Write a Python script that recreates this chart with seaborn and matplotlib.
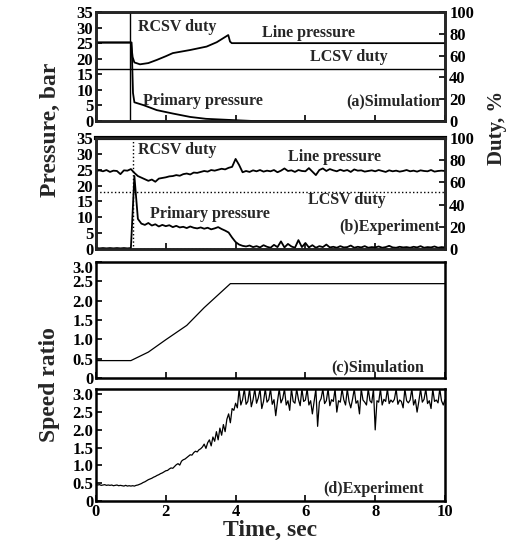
import numpy as np
import pandas as pd
import matplotlib
matplotlib.use("Agg")
import matplotlib.pyplot as plt
from matplotlib.transforms import ScaledTranslation
import seaborn as sns

# ---------------- data ----------------
# (a) simulation
sim_line_t = [0, 1.0, 1.05, 1.1, 1.26, 1.5, 1.74, 2.0, 2.2, 2.7, 3.17, 3.46, 3.79, 3.84, 3.89, 10]
sim_line_p = [25.2, 25.2, 20.5, 18.8, 18.2, 18.6, 19.6, 20.8, 21.8, 22.8, 23.9, 25.3, 27.6, 25.5, 25.0, 25.0]
sim_prim_t = [0, 1.02, 1.06, 1.1, 1.36, 1.74, 2.2, 2.7, 3.15, 4.1, 4.5, 10]
sim_prim_p = [25.2, 25.2, 9.0, 6.0, 5.1, 3.5, 2.4, 1.3, 0.7, 0.2, 0.0, 0.0]
sim_rcsv_t = [0, 0.98, 0.98, 10]
sim_rcsv_d = [100, 100, 0, 0]
sim_lcsv_t = [0, 10]
sim_lcsv_d = [47.4, 47.4]

# (b) experiment (sampled every 0.1 s from 0 to 10 s)
exp_t_start, exp_t_step = 0.0, 0.1
exp_line_p = [24.6, 24.8, 24.5, 24.9, 24.3, 24.7, 24.6, 23.6, 24.8, 24.7,
              25.2, 24.0, 23.0, 22.5, 22.0, 21.5, 21.9, 21.2, 22.2, 22.4,
              22.6, 22.9, 23.0, 23.3, 23.1, 23.6, 23.8, 23.5, 24.1, 24.0,
              24.3, 24.6, 24.4, 24.9, 24.7, 25.0, 25.3, 25.1, 25.6, 25.9,
              28.4, 26.5, 24.2, 24.6, 24.3, 24.8, 24.5, 24.9, 24.4, 24.7,
              24.5, 24.9, 24.2, 24.7, 25.4, 24.6, 24.8, 24.3, 24.9, 24.6,
              24.5, 25.5, 24.4, 23.3, 24.9, 25.4, 24.6, 25.2, 24.8, 24.5,
              25.0, 24.6, 24.9, 24.3, 25.1, 24.7, 24.8, 24.4, 24.6, 24.8,
              24.5, 24.9, 24.6, 24.3, 24.8, 24.5, 24.7, 24.4, 24.6, 24.9,
              24.5, 24.7, 24.4, 24.8, 24.6, 24.5, 24.9, 24.4, 24.6, 24.7,
              24.6]
exp_prim_p = [0.3, 0.2, 0.3, 0.2, 0.3, 0.2, 0.3, 0.2, 0.3, 0.2,
              0.3, 23.0, 9.5, 8.0, 7.6, 8.2, 7.4, 7.8, 7.1, 7.6,
              7.2, 7.5, 6.9, 7.3, 6.8, 7.0, 6.6, 7.1, 6.7, 6.5,
              6.8, 6.4, 6.7, 6.2, 6.5, 6.9, 6.3, 5.8, 5.2, 3.6,
              2.2, 1.4, 1.0, 0.8, 1.1, 0.6, 0.9, 0.5, 1.2, 0.7,
              0.4, 1.3, 0.6, 2.4, 0.5, 1.6, 0.8, 0.4, 2.8, 0.6,
              1.9, 0.5, 1.2, 0.4, 0.9, 0.6, 1.4, 0.5, 0.7, 0.4,
              0.9, 0.5, 0.6, 1.1, 0.4, 0.7, 0.5, 0.9, 0.4, 0.6,
              0.5, 0.8, 0.4, 0.6, 1.0, 0.5, 0.4, 0.7, 0.5, 0.6,
              0.4, 0.7, 0.5, 0.9, 0.4, 0.6, 0.5, 0.8, 0.4, 0.6,
              0.5]
exp_rcsv_t = [0, 1.05, 1.05, 10]
exp_rcsv_d = [100, 100, 0, 0]
exp_lcsv_t = [0, 10]
exp_lcsv_d = [51.1, 51.1]

# (c) simulation speed ratio
sim_speed_t = [0, 1.0, 1.5, 2.0, 2.6, 3.1, 3.85, 10]
sim_speed = [0.45, 0.45, 0.67, 0.99, 1.36, 1.82, 2.44, 2.44]

# (d) experiment speed ratio (sampled every 0.05 s from 0 to 10 s)
exp_speed_step = 0.05
exp_speed = [0.46, 0.45, 0.46, 0.44, 0.45, 0.46, 0.44, 0.45, 0.44, 0.45, 0.43, 0.44, 0.45, 0.43, 0.44, 0.43, 0.42, 0.44, 0.42, 0.43,
             0.42, 0.43, 0.42, 0.44, 0.45, 0.47, 0.49, 0.52, 0.54, 0.57, 0.60, 0.62, 0.64, 0.67, 0.69, 0.72, 0.74, 0.77, 0.79, 0.82,
             0.85, 0.86, 0.90, 0.93, 0.92, 0.97, 1.02, 1.05, 1.01, 1.12, 1.16, 1.18, 1.22, 1.26, 1.30, 1.29, 1.36, 1.40, 1.38, 1.44,
             1.47, 1.52, 1.60, 1.48, 1.64, 1.72, 1.55, 1.80, 1.68, 1.95, 1.72, 2.05, 1.85, 2.15, 1.95, 2.30, 2.45, 2.20, 2.60, 2.55,
             2.75, 2.62, 3.15, 2.70, 2.85, 3.15, 2.72, 2.80, 3.15, 2.65, 2.85, 3.15, 2.75, 2.90, 3.15, 2.60, 2.80, 3.15, 2.78, 2.85,
             3.15, 2.72, 2.85, 2.40, 2.80, 3.15, 2.76, 2.88, 3.15, 2.70, 2.82, 2.55, 3.15, 2.80, 2.75, 3.15, 2.86, 2.68, 3.15, 2.80,
             2.84, 3.15, 2.70, 2.82, 2.45, 2.80, 3.15, 2.10, 2.78, 2.88, 3.15, 2.74, 2.82, 3.15, 2.68, 2.85, 2.80, 3.15, 2.50, 2.82,
             2.78, 3.15, 2.85, 2.70, 3.15, 2.80, 2.62, 2.86, 3.15, 2.75, 2.82, 2.45, 3.15, 2.84, 2.78, 2.70, 3.15, 2.82, 2.76, 3.15,
             2.00, 2.82, 2.78, 3.15, 2.70, 2.86, 2.80, 3.15, 2.74, 2.84, 2.78, 2.86, 3.15, 2.72, 2.84, 2.80, 2.62, 3.15, 2.82, 2.76,
             2.84, 3.15, 2.70, 2.85, 2.50, 2.80, 3.15, 2.78, 2.86, 3.15, 2.74, 2.82, 2.60, 3.15, 2.80, 2.84, 2.76, 3.15, 2.82, 2.70,
             2.85]

pressure_ticks = [0, 5, 10, 15, 20, 25, 30, 35]
duty_ticks = [0, 20, 40, 60, 80, 100]
speed_ticks = [0, 0.5, 1.0, 1.5, 2.0, 2.5, 3.0]
speed_tick_labels = ["0", "0.5", "1.0", "1.5", "2.0", "2.5", "3.0"]
time_ticks = [0, 2, 4, 6, 8, 10]

# ---------------- style ----------------
sns.set_theme(style="ticks")
plt.rcParams['font.family'] = ['Liberation Serif', 'DejaVu Serif']
plt.rcParams['font.weight'] = 'bold'
plt.rcParams['axes.linewidth'] = 1.8
plt.rcParams['xtick.direction'] = 'in'
plt.rcParams['ytick.direction'] = 'in'

TICK_FS = 12
ANN_FS = 11.5
LAB_FS = 17

fig = plt.figure(figsize=(5.08, 5.43), dpi=100)
W, H = 508, 543


def add_ax(left, top, right, bottom):
    return fig.add_axes([left / W, 1 - bottom / H, (right - left) / W, (bottom - top) / H])


ax_a = add_ax(96, 12, 445, 121)
ax_b = add_ax(96, 138, 445, 249)
ax_c = add_ax(96, 262, 445, 378)
ax_d = add_ax(96, 389, 445, 501)


def line(ax, t, y, lw=1.2, ls='-'):
    df = pd.DataFrame({"t": t, "y": y})
    sns.lineplot(data=df, x="t", y="y", ax=ax, color="black", linewidth=lw,
                 linestyle=ls, sort=False, estimator=None)


def style_ax(ax, ymax, yticks, ylabels=None, xlabels=False):
    ax.set_xlim(0, 10)
    ax.set_ylim(0, ymax)
    ax.set_xticks(time_ticks)
    ax.set_yticks(yticks)
    if ylabels is not None:
        ax.set_yticklabels(ylabels)
    if not xlabels:
        ax.set_xticklabels([])
    ax.tick_params(axis='both', labelsize=TICK_FS, length=4, width=1.2, pad=2, colors='black')
    ax.set_xlabel("")
    ax.set_ylabel("")
    for s in ax.spines.values():
        s.set_color("black")
        s.set_linewidth(1.8)
    for lbl in ax.get_xticklabels() + ax.get_yticklabels():
        lbl.set_fontweight('bold')


def style_twin(ax2):
    ax2.set_ylim(0, 100)
    ax2.set_yticks(duty_ticks)
    ax2.tick_params(axis='y', labelsize=TICK_FS, length=4, width=1.2, pad=3, colors='black', direction='in')
    ax2.set_ylabel("")
    for lbl in ax2.get_yticklabels():
        lbl.set_fontweight('bold')


# (a)
line(ax_a, sim_line_t, sim_line_p, lw=1.3)
line(ax_a, sim_prim_t, sim_prim_p, lw=1.3)
style_ax(ax_a, 35, pressure_ticks)
ax_a2 = ax_a.twinx()
line(ax_a2, sim_rcsv_t, sim_rcsv_d, lw=1.0)
line(ax_a2, sim_lcsv_t, sim_lcsv_d, lw=1.0)
style_twin(ax_a2)

ax_a.text(1.2, 30.3, "RCSV duty", fontsize=ANN_FS, fontweight='bold', va='center')
ax_a.text(4.76, 28.3, "Line pressure", fontsize=ANN_FS, fontweight='bold', va='center')
ax_a.text(6.13, 20.6, "LCSV duty", fontsize=ANN_FS, fontweight='bold', va='center')
ax_a.text(1.35, 6.4, "Primary pressure", fontsize=ANN_FS, fontweight='bold', va='center')
ax_a.text(9.85, 6.4, "(a)Simulation", fontsize=ANN_FS, fontweight='bold', va='center', ha='right')

# (b)
exp_t = [round(exp_t_start + i * exp_t_step, 3) for i in range(len(exp_line_p))]
line(ax_b, exp_t, exp_line_p, lw=1.3)
line(ax_b, exp_t, exp_prim_p, lw=1.3)
style_ax(ax_b, 35, pressure_ticks)
ax_b.spines['top'].set_linewidth(3)
ax_b2 = ax_b.twinx()
line(ax_b2, exp_rcsv_t, exp_rcsv_d, lw=1.0, ls=':')
line(ax_b2, exp_lcsv_t, exp_lcsv_d, lw=1.0, ls=':')
style_twin(ax_b2)

ax_b.text(1.2, 31.1, "RCSV duty", fontsize=ANN_FS, fontweight='bold', va='center')
ax_b.text(5.5, 28.9, "Line pressure", fontsize=ANN_FS, fontweight='bold', va='center')
ax_b.text(6.07, 15.4, "LCSV duty", fontsize=ANN_FS, fontweight='bold', va='center')
ax_b.text(1.55, 11.1, "Primary pressure", fontsize=ANN_FS, fontweight='bold', va='center')
ax_b.text(9.85, 6.9, "(b)Experiment", fontsize=ANN_FS, fontweight='bold', va='center', ha='right')

# (c)
line(ax_c, sim_speed_t, sim_speed, lw=0.9)
style_ax(ax_c, 3.0, speed_ticks, speed_tick_labels)
top_lbl = ax_c.yaxis.get_major_ticks()[-1].label1
top_lbl.set_transform(top_lbl.get_transform() + ScaledTranslation(0, -3.5 / 72, fig.dpi_scale_trans))
ax_c.text(9.4, 0.28, "(c)Simulation", fontsize=ANN_FS, fontweight='bold', va='center', ha='right')

# (d)
exp_speed_t = [round(i * exp_speed_step, 3) for i in range(len(exp_speed))]
line(ax_d, exp_speed_t, exp_speed, lw=0.9)
style_ax(ax_d, 3.15, speed_ticks, speed_tick_labels, xlabels=True)
ax_d.tick_params(axis='x', pad=2)
ax_d.text(9.4, 0.34, "(d)Experiment", fontsize=ANN_FS, fontweight='bold', va='center', ha='right')

# axis titles
fig.text(50 / W, 1 - 130 / H, "Pressure, bar", rotation=90, fontsize=LAB_FS, fontweight='bold', ha='center', va='center')
fig.text(497 / W, 1 - 128 / H, "Duty, %", rotation=90, fontsize=LAB_FS - 2, fontweight='bold', ha='center', va='center')
fig.text(50 / W, 1 - 385 / H, "Speed ratio", rotation=90, fontsize=LAB_FS, fontweight='bold', ha='center', va='center')
fig.text(270 / W, 1 - 530 / H, "Time, sec", fontsize=LAB_FS, fontweight='bold', ha='center', va='center')

fig.savefig("out.png", dpi=100)
